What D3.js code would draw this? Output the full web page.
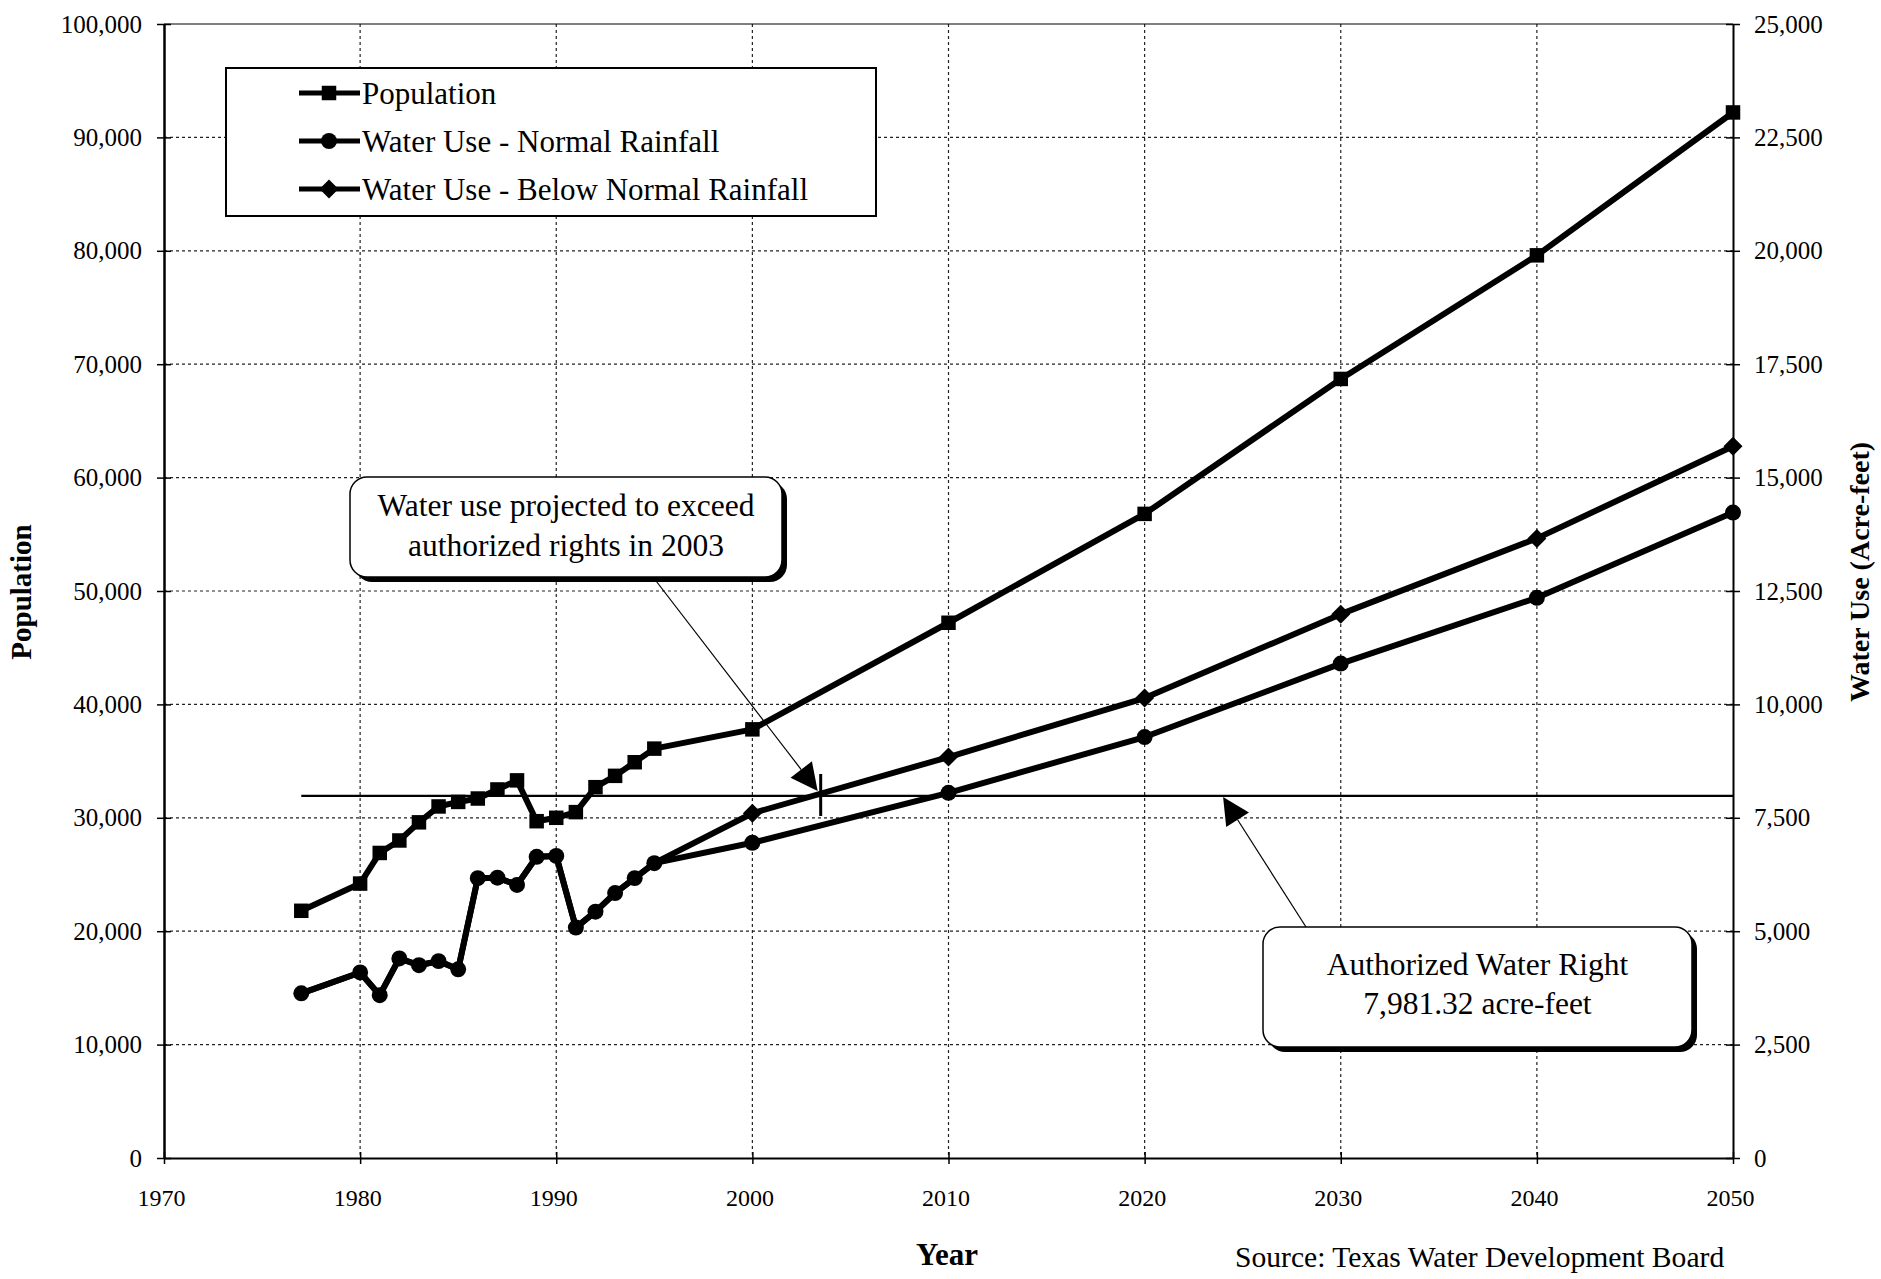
<!DOCTYPE html>
<html>
<head>
<meta charset="utf-8">
<title>Population and Water Use Projections</title>
<script src="https://cdn.jsdelivr.net/npm/d3@7"></script>
<style>
  html, body { margin: 0; padding: 0; background: #fff; }
  svg { display: block; }
  text { font-family: "Liberation Serif", "Times New Roman", Times, serif; fill: #000; }
</style>
</head>
<body>
<svg id="chart" width="1881" height="1279"></svg>
<script>
// ---- data ----
const years = [1977, 1980, 1981, 1982, 1983, 1984, 1985, 1986, 1987, 1988, 1989,
               1990, 1991, 1992, 1993, 1994, 1995, 2000, 2010, 2020, 2030, 2040, 2050];
const population = [21800, 24200, 26900, 28000, 29600, 31000, 31400, 31700, 32500, 33300, 29700,
                    30000, 30500, 32700, 33700, 34900, 36100, 37800, 47200, 56800, 68700, 79600, 92200];
// water use, acre-feet
const useNormal = [3630, 4090, 3590, 4400, 4250, 4340, 4160, 6170, 6180, 6020, 6640,
                   6660, 5080, 5430, 5840, 6170, 6500, 6950, 8050, 9280, 10900, 12350, 14230];
const useBelowNormal = [3630, 4090, 3590, 4400, 4250, 4340, 4160, 6170, 6180, 6020, 6640,
                        6660, 5080, 5430, 5840, 6170, 6500, 7600, 8840, 10140, 11990, 13660, 15690];
const authorizedRight = 7981.32;
const authorizedStart = 1977;

const yearTicks = [1970, 1980, 1990, 2000, 2010, 2020, 2030, 2040, 2050];
const popTicks = [0, 10000, 20000, 30000, 40000, 50000, 60000, 70000, 80000, 90000, 100000];
const useTicks = [0, 2500, 5000, 7500, 10000, 12500, 15000, 17500, 20000, 22500, 25000];

const seriesNames = ["Population", "Water Use - Normal Rainfall", "Water Use - Below Normal Rainfall"];

// ---- layout ----
const L = 164, R = 1733, T = 24, B = 1158;
const svg = d3.select("#chart");

const x = d3.scaleLinear().domain([1970, 2050]).range([L, R]);
const yPop = d3.scaleLinear().domain([0, 100000]).range([B, T]);
const yUse = d3.scaleLinear().domain([0, 25000]).range([B, T]);
const fmt = d3.format(",");

// ---- grid ----
const grid = svg.append("g").attr("stroke", "#222").attr("stroke-width", 1.2)
  .attr("stroke-dasharray", "3,3");
grid.selectAll("line.h").data(popTicks.filter(d => d > 0 && d < 100000)).join("line")
  .attr("x1", L).attr("x2", R).attr("y1", d => yPop(d)).attr("y2", d => yPop(d));
grid.selectAll("line.v").data(yearTicks.filter(d => d > 1970 && d < 2050)).join("line")
  .attr("x1", d => x(d)).attr("x2", d => x(d)).attr("y1", T).attr("y2", B);

// top frame line
svg.append("line").attr("x1", L).attr("x2", R).attr("y1", T).attr("y2", T)
  .attr("stroke", "#000").attr("stroke-width", 1.2);

// ---- axes ----
function styleAxis(g, fontSize) {
  g.select(".domain").attr("stroke", "#000").attr("stroke-width", 2);
  g.selectAll(".tick line").attr("stroke", "#000").attr("stroke-width", 1.5);
  g.selectAll(".tick text").attr("font-size", fontSize)
    .style("font-family", '"Liberation Serif", "Times New Roman", serif').attr("fill", "#000");
}

const axL = svg.append("g").attr("transform", `translate(${L},0)`)
  .call(d3.axisLeft(yPop).tickValues(popTicks).tickFormat(fmt).tickSizeOuter(0).tickSizeInner(7).tickPadding(15));
styleAxis(axL, 25);
axL.select(".domain").attr("stroke-width", 2.5);
axL.selectAll(".tick line").attr("x1", -7).attr("x2", 7);
axL.selectAll(".tick text").attr("x", -22);

const axR = svg.append("g").attr("transform", `translate(${R},0)`)
  .call(d3.axisRight(yUse).tickValues(useTicks).tickFormat(fmt).tickSizeOuter(0).tickSizeInner(7).tickPadding(15));
styleAxis(axR, 25);
axR.selectAll(".tick line").attr("x1", -7).attr("x2", 7);
axR.selectAll(".tick text").attr("x", 21);

const axB = svg.append("g").attr("transform", `translate(0,${B})`)
  .call(d3.axisBottom(x).tickValues(yearTicks).tickFormat(d3.format("d")).tickSizeOuter(0).tickSizeInner(6).tickPadding(20));
styleAxis(axB, 24);
axB.selectAll(".tick line").attr("y1", -6).attr("y2", 6);
axB.selectAll(".tick text").attr("y", 40).attr("dy", "0.32em").attr("x", -3);

// ---- axis titles ----
svg.append("text").attr("transform", "translate(31,592) rotate(-90)")
  .attr("text-anchor", "middle").attr("font-size", 29).attr("font-weight", "bold").text("Population");
svg.append("text").attr("transform", "translate(1869,572) rotate(-90)")
  .attr("text-anchor", "middle").attr("font-size", 28).attr("font-weight", "bold").text("Water Use (Acre-feet)");
svg.append("text").attr("x", 947).attr("y", 1265).attr("text-anchor", "middle")
  .attr("font-size", 31).attr("font-weight", "bold").text("Year");
svg.append("text").attr("x", 1235).attr("y", 1267).attr("text-anchor", "start")
  .attr("font-size", 29.6).text("Source: Texas Water Development Board");

// ---- authorized water right line ----
svg.append("line")
  .attr("x1", x(authorizedStart)).attr("x2", x(2050))
  .attr("y1", yUse(authorizedRight)).attr("y2", yUse(authorizedRight))
  .attr("stroke", "#000").attr("stroke-width", 2.2);

// ---- series ----
const rows = years.map((yr, i) => ({ yr, pop: population[i], normal: useNormal[i], below: useBelowNormal[i] }));

const symSquare = d3.symbol().type(d3.symbolSquare).size(210);
const symCircle = d3.symbol().type(d3.symbolCircle).size(200);
// diamond: a square turned 45 degrees
const diamondPath = (h => `M0,${-h}L${h},0L0,${h}L${-h},0Z`)(9.5);

function drawLine(key, yScale) {
  const line = d3.line().x(d => x(d.yr)).y(d => yScale(d[key]));
  svg.append("path").datum(rows).attr("d", line)
    .attr("fill", "none").attr("stroke", "#000").attr("stroke-width", 6).attr("stroke-linejoin", "round");
}
function drawMarkers(data, key, yScale, sym) {
  svg.append("g").selectAll("path").data(data).join("path")
    .attr("transform", d => `translate(${x(d.yr)},${yScale(d[key])})`)
    .attr("d", sym).attr("fill", "#000");
}
drawLine("pop", yPop);
drawMarkers(rows, "pop", yPop, symSquare);
drawLine("below", yUse);
drawLine("normal", yUse);
// where both rainfall series share the recorded value, the circle is what shows
drawMarkers(rows.filter(d => d.below !== d.normal), "below", yUse, diamondPath);
drawMarkers(rows, "normal", yUse, symCircle);

// crossing of below-normal projection with the authorized right
let crossYear = null;
for (let i = 1; i < rows.length; i++) {
  const a = rows[i - 1], b = rows[i];
  if (a.below < authorizedRight && b.below >= authorizedRight) {
    crossYear = a.yr + (authorizedRight - a.below) / (b.below - a.below) * (b.yr - a.yr);
    break;
  }
}
const yAuth = yUse(authorizedRight);
svg.append("line").attr("x1", x(crossYear) + 8).attr("x2", x(crossYear) + 8)
  .attr("y1", yAuth - 22).attr("y2", yAuth + 20).attr("stroke", "#000").attr("stroke-width", 3);

// ---- callouts ----
function arrow(x0, y0, x1, y1) {
  const g = svg.append("g");
  const dx = x1 - x0, dy = y1 - y0, len = Math.hypot(dx, dy);
  const ux = dx / len, uy = dy / len;
  const hl = 27, hw = 13.5;
  const bx = x1 - ux * hl, by = y1 - uy * hl;
  g.append("line").attr("x1", x0).attr("y1", y0).attr("x2", bx).attr("y2", by)
    .attr("stroke", "#000").attr("stroke-width", 1.2);
  g.append("path").attr("d",
    `M${x1},${y1}L${bx - uy * hw},${by + ux * hw}L${bx + uy * hw},${by - ux * hw}Z`)
    .attr("fill", "#000");
}

function callout(bx, by, bw, bh, lines, lineYs) {
  const g = svg.append("g");
  g.append("rect").attr("x", bx + 5).attr("y", by + 5).attr("width", bw).attr("height", bh)
    .attr("rx", 17).attr("ry", 17).attr("fill", "#000");
  g.append("rect").attr("x", bx).attr("y", by).attr("width", bw).attr("height", bh)
    .attr("rx", 17).attr("ry", 17).attr("fill", "#fff").attr("stroke", "#000").attr("stroke-width", 1.5);
  lines.forEach((t, i) => {
    g.append("text").attr("x", bx + bw / 2).attr("y", by + lineYs[i]).attr("text-anchor", "middle")
      .attr("font-size", 31.5).text(t);
  });
}

arrow(653, 577, x(crossYear) + 5, yAuth - 5);
callout(350, 477, 432, 100, ["Water use projected to exceed", "authorized rights in " + Math.round(crossYear)], [39, 79]);

arrow(1306, 927, x(2024), yAuth + 1);
callout(1263, 927, 429, 120, ["Authorized Water Right", fmt(authorizedRight) + " acre-feet"], [48, 87]);

// ---- legend ----
const lg = svg.append("g");
lg.append("rect").attr("x", 226).attr("y", 68).attr("width", 650).attr("height", 148)
  .attr("fill", "#fff").attr("stroke", "#000").attr("stroke-width", 2);
const legendSyms = [symSquare, symCircle, diamondPath];
seriesNames.forEach((name, i) => {
  const cy = 93 + i * 48;
  lg.append("line").attr("x1", 299).attr("x2", 360).attr("y1", cy).attr("y2", cy)
    .attr("stroke", "#000").attr("stroke-width", 5);
  lg.append("path").attr("transform", `translate(329,${cy})`).attr("d", legendSyms[i]).attr("fill", "#000");
  lg.append("text").attr("x", 362).attr("y", cy).attr("dy", "0.34em").attr("font-size", 31).text(name);
});
</script>
</body>
</html>
